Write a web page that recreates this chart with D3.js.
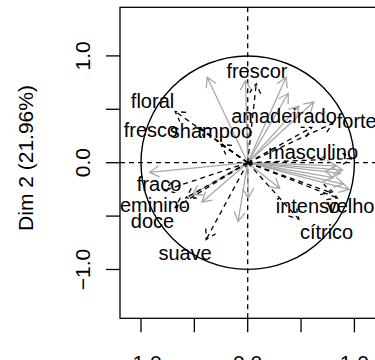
<!DOCTYPE html>
<html><head><meta charset="utf-8">
<script src="https://cdn.jsdelivr.net/npm/d3@7"></script>
<style>body{margin:0;background:#fff}svg{display:block}text{font-family:"Liberation Sans",Arial,sans-serif}</style>
</head><body><div id="chart"></div>
<script>
// Supplementary (labelled) variables: dashed arrows
const varNames = ["frescor","floral","fresco","shampoo","amadeirado","forte","masculino","fraco","feminino","doce","suave","intenso","velho","cítrico"];
const varX = [0.08,-0.68,-0.45,-0.25,0.60,0.80,0.98,-0.78,-0.68,-0.58,-0.39,0.78,0.84,0.48];
const varY = [0.74,0.48,0.33,0.17,0.33,0.37,0.04,-0.26,-0.42,-0.33,-0.72,-0.28,-0.33,-0.53];
// label anchor coordinates (data units)
const labX = [0.087,-0.892,-0.906,-0.344,0.340,1.022,0.612,-0.831,-0.895,-0.892,-0.587,0.565,0.964,0.739];
const labY = [0.859,0.578,0.306,0.297,0.437,0.390,0.100,-0.199,-0.396,-0.546,-0.845,-0.405,-0.405,-0.649];
// Active variables: grey arrows (unlabelled)
const actX = [-0.38,-0.02,0.36,0.38,0.48,0.62,0.83,0.87,0.80,0.95,0.90,0.30,-0.92,-0.52,-0.43,-0.09,0.005,0.89];
const actY = [0.80,0.77,0.80,0.65,0.53,0.57,-0.03,-0.10,-0.14,-0.25,-0.20,-0.24,-0.09,-0.30,-0.37,-0.55,-0.33,-0.07];
const tickVals = [-1,-0.5,0,0.5,1];
const tickLabels = ["\u22121.0","","0.0","","1.0"];
const yTitle = "Dim 2 (21.96%)";

const W=375,H=360;
const box={l:120,t:7.3,r:400,b:318.3};
const x=d3.scaleLinear().domain([-1,1]).range([141,354.4]);
const y=d3.scaleLinear().domain([-1,1]).range([269.5,55.9]);
const svg=d3.select("#chart").append("svg").attr("width",W).attr("height",H);
svg.append("clipPath").attr("id","clip").append("rect")
  .attr("x",box.l).attr("y",box.t).attr("width",box.r-box.l).attr("height",box.b-box.t);
const g=svg.append("g").attr("clip-path","url(#clip)");

// reference dashed axes
g.append("line").attr("x1",x(0)).attr("x2",x(0)).attr("y1",box.t).attr("y2",box.b)
  .attr("stroke","#000").attr("stroke-width",1.3).attr("stroke-dasharray","5,4");
g.append("line").attr("x1",box.l).attr("x2",box.r).attr("y1",y(0)).attr("y2",y(0))
  .attr("stroke","#000").attr("stroke-width",1.3).attr("stroke-dasharray","5,4");
// circle
g.append("circle").attr("cx",x(0)).attr("cy",y(0)).attr("r",x(1)-x(0))
  .attr("fill","none").attr("stroke","#000").attr("stroke-width",1.4);

function arrowPath(x1,y1){
  const x0=x(0),y0=y(0),px=x(x1),py=y(y1);
  const th=Math.atan2(py-y0,px-x0),L=11,a=Math.PI/6;
  const l1=[px-L*Math.cos(th-a),py-L*Math.sin(th-a)],l2=[px-L*Math.cos(th+a),py-L*Math.sin(th+a)];
  return `M${x0},${y0}L${px},${py}M${l1[0]},${l1[1]}L${px},${py}L${l2[0]},${l2[1]}`;
}
g.selectAll("path.act").data(actX).join("path").attr("class","act")
  .attr("d",(d,i)=>arrowPath(actX[i],actY[i]))
  .attr("fill","none").attr("stroke","#a8a8a8").attr("stroke-width",1.3);
g.selectAll("path.sup").data(varX).join("path").attr("class","sup")
  .attr("d",(d,i)=>arrowPath(varX[i],varY[i]))
  .attr("fill","none").attr("stroke","#000").attr("stroke-width",1.3).attr("stroke-dasharray","5,4");
g.selectAll("text.lab").data(varNames).join("text").attr("class","lab")
  .attr("x",(d,i)=>x(labX[i])).attr("y",(d,i)=>y(labY[i])+7)
  .attr("text-anchor","middle").attr("font-size",20).attr("fill","#000").text(d=>d);

// frame
svg.append("rect").attr("x",box.l).attr("y",box.t).attr("width",box.r-box.l).attr("height",box.b-box.t)
  .attr("fill","none").attr("stroke","#000").attr("stroke-width",1.3);

// y axis
const ya=svg.append("g");
ya.selectAll("line").data(tickVals).join("line").attr("x1",box.l-14).attr("x2",box.l)
  .attr("y1",d=>y(d)).attr("y2",d=>y(d)).attr("stroke","#000").attr("stroke-width",1.3);
ya.selectAll("text").data(tickVals).join("text")
  .attr("transform",d=>`translate(90,${y(d)}) rotate(-90)`).attr("text-anchor","middle")
  .attr("font-size",21).text((d,i)=>tickLabels[i]);
// x axis
const xa=svg.append("g");
xa.selectAll("line").data(tickVals).join("line").attr("y1",box.b).attr("y2",box.b+14)
  .attr("x1",d=>x(d)).attr("x2",d=>x(d)).attr("stroke","#000").attr("stroke-width",1.3);
xa.selectAll("text").data(tickVals).join("text").attr("x",d=>x(d)).attr("y",370)
  .attr("text-anchor","middle").attr("font-size",21).text((d,i)=>tickLabels[i]);
svg.append("text").attr("transform",`translate(33,158) rotate(-90)`).attr("text-anchor","middle")
  .attr("font-size",21).text(yTitle);
</script></body></html>
